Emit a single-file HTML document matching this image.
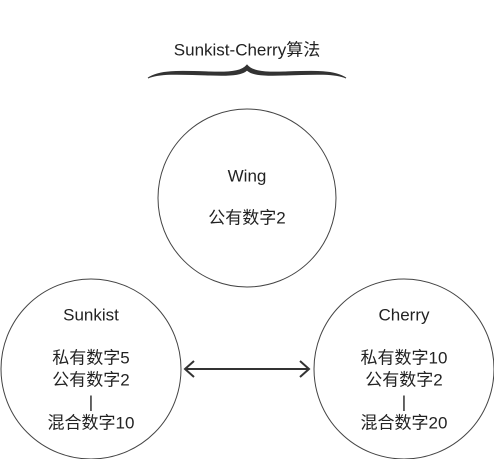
<!DOCTYPE html>
<html><head><meta charset="utf-8"><style>
html,body{margin:0;padding:0;background:#fff;}
svg{display:block;}
text{font-family:"Liberation Sans","Noto Sans CJK SC",sans-serif;font-size:17px;fill:#222;text-anchor:middle;dominant-baseline:central;}
</style></head><body>
<svg width="494" height="459" viewBox="0 0 494 459" xmlns="http://www.w3.org/2000/svg">
<text x="247" y="50">Sunkist-Cherry算法</text>
<path d="M148,78 C160,70 180,71 210,72 C235,73 243,70 247,65 C251,70 259,73 284,72 C314,71 334,70 346,78 C334,73 314,74 284,75 C259,76 251,74 247,70 C243,74 235,76 210,75 C180,74 160,73 148,78 Z" fill="#333" stroke="#333" stroke-width="1"/>
<circle cx="247" cy="198" r="89" fill="none" stroke="#444" stroke-width="1"/>
<text x="247" y="176">Wing</text>
<text x="247" y="218">公有数字2</text>
<circle cx="91" cy="369" r="90" fill="none" stroke="#444" stroke-width="1"/>
<text x="91" y="315">Sunkist</text>
<text x="91" y="358">私有数字5</text>
<text x="91" y="380">公有数字2</text>
<text x="91" y="402">|</text>
<text x="91" y="423">混合数字10</text>
<circle cx="404" cy="369" r="90" fill="none" stroke="#444" stroke-width="1"/>
<text x="404" y="315">Cherry</text>
<text x="404" y="358">私有数字10</text>
<text x="404" y="380">公有数字2</text>
<text x="404" y="402">|</text>
<text x="404" y="423">混合数字20</text>
<line x1="185" y1="369" x2="309" y2="369" stroke="#333" stroke-width="2"/>
<polyline points="194,361 185,369 194,377" fill="none" stroke="#333" stroke-width="2"/>
<polyline points="300,361 309,369 300,377" fill="none" stroke="#333" stroke-width="2"/>
</svg>
</body></html>
